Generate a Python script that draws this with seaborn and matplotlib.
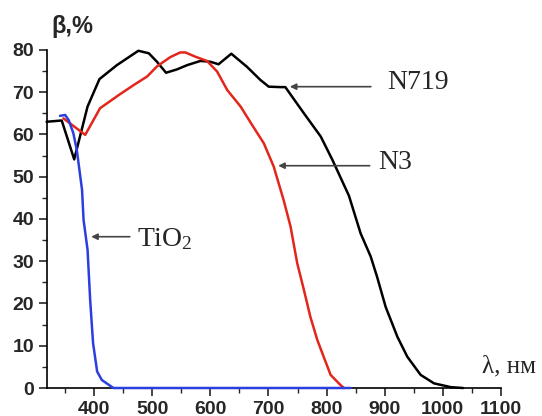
import numpy as np
import pandas as pd
import matplotlib
matplotlib.use("Agg")
import matplotlib.pyplot as plt
import seaborn as sns
from matplotlib.ticker import MultipleLocator

# Spectral response of dye-sensitised films
n719_wl = [318, 344, 365.5, 388.5, 409, 439, 476, 494, 508, 523.6, 542.6, 560, 583, 600, 614,
           636, 663, 686, 700.5, 721, 729, 761, 790, 810, 838.5, 858.6, 876, 887, 901.7, 922,
           939, 962, 985, 1014, 1035]
n719_beta = [63.0, 63.3, 54.1, 66.6, 73.1, 76.4, 79.8, 79.2, 77.2, 74.6, 75.4, 76.4, 77.4, 77.2, 76.6,
             79.1, 76.0, 72.9, 71.3, 71.2, 71.2, 65.0, 59.5, 54.0, 45.5, 36.6, 31.1, 26.3, 19.2, 12.1,
             7.4, 3.1, 1.1, 0.2, 0.0]

n3_wl = [347, 384.5, 410, 442, 468, 491, 508, 531, 548, 557, 574, 594, 611.5, 629, 652, 672,
         692, 709, 726, 738, 749.5, 761, 772, 784, 795, 807, 824, 830]
n3_beta = [63.8, 59.9, 66.2, 69.3, 71.7, 73.7, 76.1, 78.3, 79.4, 79.4, 78.4, 77.4, 74.9, 70.5, 66.6, 62.2,
           57.9, 52.4, 44.5, 38.2, 29.5, 23.2, 16.9, 11.4, 7.4, 3.1, 0.7, 0.0]

tio2_wl = [341, 350, 356, 364, 370, 379, 381.6, 388.5, 393, 398, 405, 413, 433, 841]
tio2_beta = [64.4, 64.6, 63.4, 60.3, 56.3, 46.9, 39.8, 32.7, 20.8, 10.6, 3.9, 1.9, 0.0, 0.0]

x_ticks = [400, 500, 600, 700, 800, 900, 1000, 1100]
y_ticks = [0, 10, 20, 30, 40, 50, 60, 70, 80]

sns.set_style("ticks")
plt.rcParams["font.family"] = ["Liberation Sans", "DejaVu Sans"]
plt.rcParams["mathtext.fontset"] = "custom"
plt.rcParams["mathtext.rm"] = "Liberation Serif"
plt.rcParams["mathtext.it"] = "Liberation Serif:italic"

fig = plt.figure(figsize=(5.42, 4.16), dpi=100)
ax = fig.add_axes([0.086, 0.0673, 0.838, 0.8127])

series = [
    (n719_wl, n719_beta, "black"),
    (n3_wl, n3_beta, "#e3261b"),
    (tio2_wl, tio2_beta, "#2b3fe0"),
]
for wl, beta, col in series:
    df = pd.DataFrame({"wl": wl, "beta": beta})
    sns.lineplot(data=df, x="wl", y="beta", color=col, linewidth=1.8, ax=ax,
                 sort=False, estimator=None, clip_on=False, zorder=3)

ax.set_xlim(318, 1100)
ax.set_ylim(0, 80)
ax.set_xticks(x_ticks)
ax.set_yticks(y_ticks)
ax.xaxis.set_minor_locator(MultipleLocator(50))
ax.yaxis.set_minor_locator(MultipleLocator(5))
ax.tick_params(axis="both", which="major", length=6, width=1.2, direction="out",
               labelsize=14, pad=3)
ax.tick_params(axis="both", which="minor", length=3.5, width=1.0, direction="out")
for lbl in ax.get_xticklabels() + ax.get_yticklabels():
    lbl.set_fontweight("bold")
for side in ("top", "right"):
    ax.spines[side].set_visible(False)
for side in ("left", "bottom"):
    ax.spines[side].set_linewidth(1.2)
    ax.spines[side].set_color("black")
ax.set_xlabel("")
ax.set_ylabel("")

serif = ["Liberation Serif", "DejaVu Serif"]
arrow = dict(arrowstyle="-|>", color="#444444", lw=1.2, mutation_scale=9)

ax.annotate("", xy=(732, 71.3), xytext=(881, 71.3), arrowprops=arrow)
ax.text(905, 72.2, "N719", family=serif, fontsize=20, va="center", ha="left")

ax.annotate("", xy=(712, 52.6), xytext=(879, 52.6), arrowprops=arrow)
ax.text(889, 53.3, "N3", family=serif, fontsize=20, va="center", ha="left")

ax.annotate("", xy=(390, 35.8), xytext=(466, 35.8), arrowprops=arrow)
ax.text(473, 35.3, r"$\mathrm{TiO_2}$", fontsize=20, va="center", ha="left")

fig.text(51.7 / 542, 1 - 26.7 / 416, "β,%", fontsize=17, fontweight="bold",
         ha="left", va="center")
fig.text(481.7 / 542, 1 - 366.7 / 416, "λ, нм", family=serif, fontsize=18,
         ha="left", va="center")

fig.savefig("out.png", dpi=100)
